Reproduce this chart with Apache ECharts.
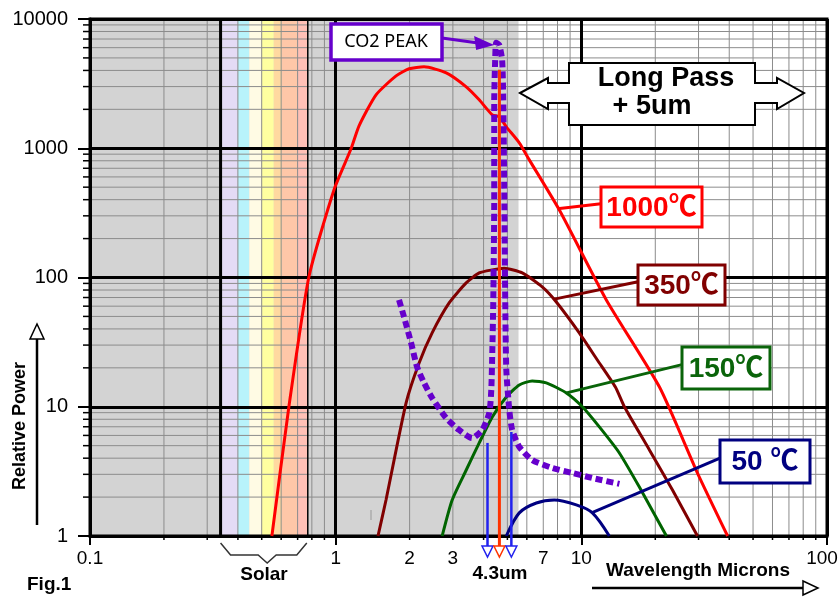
<!DOCTYPE html>
<html>
<head>
<meta charset="utf-8">
<script src="https://cdn.jsdelivr.net/npm/echarts@6/dist/echarts.min.js"></script>
<style>
  html, body { margin: 0; padding: 0; background: #fff; }
  #chart { width: 840px; height: 597px; }
</style>
</head>
<body>
<div id="chart"></div>
<script>
// ---- values: [wavelength (um), relative power] ----
var curve1000 = [[0.550, 1], [0.645, 10], [0.778, 101], [0.984, 476], [1.155, 990], [1.245, 1490],
  [1.46, 2590], [1.762, 3630], [1.99, 4120], [2.29, 4270], [2.82, 3830], [3.40, 2987], [3.84, 2370],
  [4.34, 1814], [4.64, 1750], [4.95, 1465], [5.59, 1101], [6.14, 813], [8.13, 334], [12.64, 67.1],
  [20.8, 14.2], [29.7, 3.07], [39.4, 1]];
var curve350 = [[1.487, 1], [1.603, 1.9], [1.935, 10.7], [2.186, 21.8], [2.47, 37.3], [2.897, 63.6],
  [3.398, 90.8], [3.84, 108.5], [4.34, 114.5], [4.85, 118], [5.75, 108.5], [6.93, 84.6], [7.91, 64.7],
  [9.81, 37.3], [11.62, 23], [13.76, 14.2], [14.97, 10], [18.93, 4.63], [23.5, 2.27], [29.7, 1]];
var curve150 = [[2.713, 1], [2.98, 1.9], [3.4, 3.24], [3.84, 5.25], [4.34, 8.34], [4.95, 11.9],
  [5.59, 14.75], [6.31, 15.84], [7.2, 15.3], [8.69, 12.8], [10.1, 10], [11.84, 6.98], [14.28, 4.39],
  [17.23, 2.39], [22.2, 1]];
var curve50 = [[4.95, 1], [5.59, 1.51], [6.56, 1.8], [7.76, 1.9], [9.54, 1.74], [11.09, 1.51], [13.0, 1]];
var curveCO2 = [[1.811, 67.1], [1.898, 49.5], [2.028, 31.2], [2.145, 20.3], [2.29, 15.3], [2.47, 11.7],
  [2.817, 8.19], [3.18, 6.61], [3.594, 5.73], [3.95, 6.61], [4.22, 8.96], [4.30, 13.5], [4.34, 26.1],
  [4.38, 63.6], [4.42, 399], [4.42, 2369], [4.46, 4832], [4.50, 6544], [4.63, 6320], [4.76, 4832],
  [4.81, 2369], [4.86, 399], [4.90, 67], [4.95, 19.3], [5.09, 9.45], [5.23, 6.61], [5.59, 4.89],
  [6.31, 3.87], [7.62, 3.36], [9.19, 3.07], [11.09, 2.81], [14.29, 2.53]];

// axis ranges and ticks
var xRange = [0.1, 100];
var yRange = [1, 10000];
var xTickLabels = [0.1, 1, 2, 3, 7, 10, 100];
var minorSteps = [2, 3, 4, 5, 6, 7, 8, 9];

// shaded zones (um)
var longPassEdge = 5.55;
var solarEdges = [0.345, 0.40, 0.445, 0.50, 0.56, 0.605, 0.70, 0.765];
var solarLines = [0.34, 0.77];

// 4.3um marker arrows: [wavelength, top power]
var co2Arrows = [[4.15, 5.25], [4.64, 4045], [5.19, 6.38]];

// curve labels: text and the point on the curve the leader points to
var tempLabels = ['1000℃', '350℃', '150℃', '50 ℃'];
var tempAnchors = [[8.0, 340], [7.76, 68], [8.7, 12.8], [11.0, 1.51]];

var FONT = "'Liberation Sans', Arial, 'Noto Sans CJK SC', sans-serif";
var solarColors = ['#e4dbf5', '#b8f3fb', '#fffbe4', '#ffffa0', '#ffd9a0', '#ffc7a8', '#ffc0b6'];

var chart = echarts.init(document.getElementById('chart'));

function curve(name, data, color, width, smooth) {
  return {
    name: name, type: 'line', data: data, showSymbol: false, smooth: smooth,
    z: 3, silent: true, clip: true,
    lineStyle: { color: color, width: width }
  };
}

var co2 = curve('CO2', curveCO2, '#6600cc', 6, 0.2);
co2.lineStyle.type = [7, 4];
co2.lineStyle.cap = 'butt';

chart.setOption({
  animation: false,
  grid: { left: 90, right: 13, top: 19, bottom: 61, show: true, borderColor: '#000', borderWidth: 3,
    backgroundColor: 'rgba(0,0,0,0)' },
  xAxis: {
    type: 'log', logBase: 10, min: xRange[0], max: xRange[1],
    axisLine: { lineStyle: { color: '#000', width: 3 } },
    axisTick: { length: 9, lineStyle: { color: '#000', width: 2 } },
    axisLabel: { show: false },
    splitLine: { show: true, lineStyle: { color: '#000', width: 3 } }
  },
  yAxis: {
    type: 'log', logBase: 10, min: yRange[0], max: yRange[1],
    axisLine: { lineStyle: { color: '#000', width: 3 } },
    axisTick: { length: 12, lineStyle: { color: '#000', width: 2 } },
    axisLabel: { margin: 22, fontSize: 20, color: '#000', fontFamily: FONT,
      formatter: function (v) { return String(+v.toPrecision(6)); } },
    splitLine: { show: true, lineStyle: { color: '#000', width: 3 } }
  },
  series: [
    curve('1000C', curve1000, '#ff0000', 3, 0.2),
    curve('350C', curve350, '#800000', 3, 0.2),
    curve('150C', curve150, '#006400', 3, 0.2),
    curve('50C', curve50, '#000080', 3, 0.3),
    co2
  ]
});

// ---- decorations built on the chart's own scales ----
function P(x, y) { return chart.convertToPixel({ gridIndex: 0 }, [x, y]); }
var g = [];
var tl = P(xRange[0], yRange[1]), br = P(xRange[1], yRange[0]);
var L = tl[0], T = tl[1], R = br[0], B = br[1];

function line(x1, y1, x2, y2, color, w, z) {
  g.push({ type: 'line', z: z, silent: true, shape: { x1: x1, y1: y1, x2: x2, y2: y2 },
    style: { stroke: color, lineWidth: w } });
}
function text(str, x, y, size, weight, color, extra) {
  var el = { type: 'text', x: x, y: y, z: 30, silent: true,
    style: { text: str, fontSize: size, fontWeight: weight, fontFamily: FONT, fill: color,
      align: 'center', verticalAlign: 'middle' } };
  if (extra) { for (var k in extra) el[k] = extra[k]; }
  g.push(el);
  return el;
}
function hollowTri(cx, yTop, halfW, h, color) {
  g.push({ type: 'polygon', z: 25, silent: true,
    shape: { points: [[cx - halfW, yTop], [cx + halfW, yTop], [cx, yTop + h]] },
    style: { fill: '#fff', stroke: color, lineWidth: 1.5 } });
}

// grey shading up to the long pass edge
var gx = P(longPassEdge, 1)[0];
g.push({ type: 'rect', z: -10, silent: true, shape: { x: L, y: T, width: gx - L, height: B - T },
  style: { fill: '#d3d3d3' } });
// solar colour bands
for (var i = 0; i < solarEdges.length - 1; i++) {
  var a = P(solarEdges[i], 1)[0], b = P(solarEdges[i + 1], 1)[0];
  g.push({ type: 'rect', z: -9, silent: true, shape: { x: a, y: T, width: b - a, height: B - T },
    style: { fill: solarColors[i] } });
}
// minor grid lines and ticks
[0.1, 1, 10].forEach(function (d) {
  minorSteps.forEach(function (k) {
    var x = P(d * k, 1)[0];
    line(x, T, x, B, '#8c8c8c', 1, -5);
    line(x, B, x, B + 4, '#000', 1.5, 5);
  });
});
[1, 10, 100, 1000].forEach(function (d) {
  minorSteps.forEach(function (k) {
    var y = P(1, d * k)[1];
    line(L, y, R, y, '#8c8c8c', 1, -5);
    line(L - 7, y, L, y, '#000', 1.5, 5);
  });
});
// solar boundary lines
var s0 = P(solarLines[0], 1)[0], s1 = P(solarLines[1], 1)[0];
line(s0, T, s0, B, '#000', 3, -4);
line(s1, T, s1, B, '#000', 1.5, -4);

// x tick labels
xTickLabels.forEach(function (v) {
  var x = P(v, 1)[0];
  if (v === 100) x -= 5;
  text(String(v), x, B + 23, 19, 'normal', '#000');
});

// 4.3um arrows
co2Arrows.forEach(function (a, i) {
  var p = P(a[0], a[1]);
  var c = i === 1 ? '#ff3300' : '#2222ee';
  line(p[0], p[1], p[0], B + 10, c, i === 1 ? 3 : 2.5, 20);
  hollowTri(p[0], B + 10, 5.5, 11, c);
});
text('4.3um', 500, 574, 19, 'bold', '#000');

// solar brace
var mid = (s0 + s1) / 2 + 3;
g.push({ type: 'polyline', z: 20, silent: true,
  shape: { points: [[s0, B + 7], [s0 + 10, B + 19], [mid - 9, B + 19], [mid, B + 27], [mid + 9, B + 19],
    [s1 - 11, B + 19], [s1 - 1, B + 7]] },
  style: { stroke: '#333', lineWidth: 1.5, fill: null } });
text('Solar', 264, 575, 19, 'bold', '#000');

// temperature labels
var boxes = [[601, 187, 101, 40], [638, 265, 87, 40], [682, 347, 88, 42], [720, 440, 90, 43]];
var boxColors = ['#ff0000', '#800000', '#0a640a', '#000080'];
tempLabels.forEach(function (t, i) {
  var bx = boxes[i], c = boxColors[i];
  var ap = P(tempAnchors[i][0], tempAnchors[i][1]);
  line(bx[0], bx[1] + bx[3] * 0.42, ap[0], ap[1], c, 3, 20);
  g.push({ type: 'rect', z: 22, silent: true, shape: { x: bx[0], y: bx[1], width: bx[2], height: bx[3] },
    style: { fill: '#fff', stroke: c, lineWidth: 3 } });
  text(t, bx[0] + bx[2] / 2, bx[1] + bx[3] / 2 + 1, 28, 'bold', c);
});

// CO2 PEAK callout
g.push({ type: 'rect', z: 22, silent: true, shape: { x: 331, y: 24, width: 111, height: 36 },
  style: { fill: '#fff', stroke: '#6600cc', lineWidth: 3.5 } });
text('CO2 PEAK', 386, 42, 18, 'normal', '#000').style.fontFamily = "'Noto Sans', sans-serif";
var pk = P(4.5, 6544);
line(442, 38, pk[0] - 18, 43, '#6600cc', 3, 21);
g.push({ type: 'polygon', z: 21, silent: true,
  shape: { points: [[pk[0] - 22, 36], [pk[0] - 2, 45], [pk[0] - 20, 50]] },
  style: { fill: '#6600cc' } });

// Long Pass double arrow
g.push({ type: 'polygon', z: 22, silent: true,
  shape: { points: [[520, 93], [548, 78], [548, 83], [569, 83], [569, 63], [755, 63], [755, 83], [777, 83],
    [777, 78], [804, 93], [777, 109], [777, 103], [755, 103], [755, 125], [569, 125], [569, 103],
    [548, 103], [548, 109]] },
  style: { fill: '#fff', stroke: '#000', lineWidth: 2 } });
text('Long Pass', 666, 79, 27, 'bold', '#000');
text('+ 5um', 652, 107, 27, 'bold', '#000');

// axis titles
text('Relative Power', 20, 426, 18, 'bold', '#000', { rotation: Math.PI / 2 });
line(37, 525, 37, 339, '#000', 2.5, 20);
g.push({ type: 'polygon', z: 21, silent: true, shape: { points: [[30, 339], [44, 339], [37, 324]] },
  style: { fill: '#fff', stroke: '#000', lineWidth: 1.5 } });
text('Wavelength Microns', 698, 571, 19, 'bold', '#000');
line(592, 588, 803, 588, '#000', 2.5, 20);
g.push({ type: 'polygon', z: 21, silent: true, shape: { points: [[803, 581], [818, 588], [803, 595]] },
  style: { fill: '#fff', stroke: '#000', lineWidth: 1.5 } });
text('Fig.1', 27, 585, 19, 'bold', '#000').style.align = 'left';

// small stray mark in the original figure
line(371, 510, 371, 520, '#999', 1, 5);

chart.setOption({ graphic: { elements: g } });
</script>
</body>
</html>
